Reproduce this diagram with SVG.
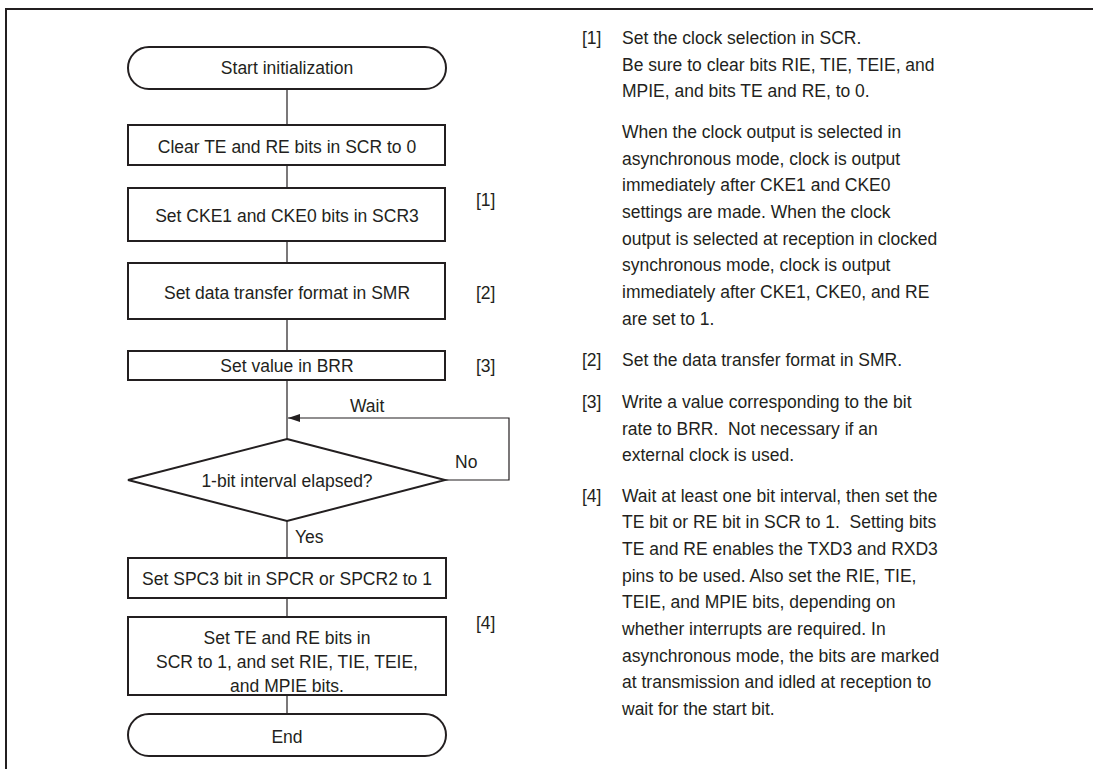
<svg xmlns="http://www.w3.org/2000/svg" width="1093" height="769" viewBox="0 0 1093 769">
<defs>
<style>
text{font-family:"Liberation Sans",Arial,sans-serif;font-size:17.5px;fill:#231f20}
.c{text-anchor:middle}
.pre{white-space:pre}
.box{fill:#fff;stroke:#231f20;stroke-width:2}
.ln{fill:none;stroke:#231f20;stroke-width:1.2}
</style>
<marker id="ah" markerWidth="12" markerHeight="8" refX="12" refY="4" orient="auto" markerUnits="userSpaceOnUse">
<path d="M0,0 L12,4 L0,8 Z" fill="#231f20"/>
</marker>
</defs>
<rect width="1093" height="769" fill="#fff"/>
<path d="M6,769 V9 H1093" fill="none" stroke="#231f20" stroke-width="2"/>
<g id="connectors">
<line class="ln" x1="287" y1="89" x2="287" y2="125"/>
<line class="ln" x1="287" y1="165" x2="287" y2="188"/>
<line class="ln" x1="287" y1="241" x2="287" y2="263"/>
<line class="ln" x1="287" y1="319" x2="287" y2="351"/>
<line class="ln" x1="287" y1="380" x2="287" y2="439"/>
<path class="ln" d="M445,480 H509 V418 H288" marker-end="url(#ah)"/>
<line class="ln" x1="287" y1="521" x2="287" y2="558"/>
<line class="ln" x1="287" y1="598" x2="287" y2="617"/>
<line class="ln" x1="287" y1="695" x2="287" y2="714"/>
<text x="350" y="412">Wait</text>
<text x="455" y="468">No</text>
<text x="295" y="543">Yes</text>
</g>
<g id="start">
<rect class="box" x="128" y="47" width="318" height="42" rx="21"/>
<text class="c" x="287" y="74">Start initialization</text>
</g>
<g id="clear">
<rect class="box" x="128" y="125" width="317" height="40"/>
<text class="c" x="287" y="153">Clear TE and RE bits in SCR to 0</text>
</g>
<g id="cke">
<rect class="box" x="128" y="188" width="317" height="53"/>
<text class="c" x="287" y="222">Set CKE1 and CKE0 bits in SCR3</text>
<text x="476" y="206">[1]</text>
</g>
<g id="smr">
<rect class="box" x="128" y="263" width="317" height="56"/>
<text class="c" x="287" y="299">Set data transfer format in SMR</text>
<text x="476" y="299">[2]</text>
</g>
<g id="brr">
<rect class="box" x="128" y="351" width="317" height="29"/>
<text class="c" x="287" y="372">Set value in BRR</text>
<text x="476" y="372">[3]</text>
</g>
<g id="decision">
<polygon class="box" points="287,439 445,480 287,521 128,480"/>
<text class="c" x="287" y="487">1-bit interval elapsed?</text>
</g>
<g id="spc3">
<rect class="box" x="128" y="558" width="318" height="40"/>
<text class="c" x="287" y="585">Set SPC3 bit in SPCR or SPCR2 to 1</text>
</g>
<g id="te">
<rect class="box" x="128" y="617" width="318" height="78"/>
<text class="c" x="287" y="644">Set TE and RE bits in</text>
<text class="c" x="287" y="668">SCR to 1, and set RIE, TIE, TEIE,</text>
<text class="c" x="287" y="692">and MPIE bits.</text>
<text x="476" y="629">[4]</text>
</g>
<g id="end">
<rect class="box" x="128" y="714" width="318" height="42" rx="21"/>
<text class="c" x="287" y="743">End</text>
</g>
<g id="notes">
<text x="582" y="44">[1]</text>
<text x="622" y="44">Set the clock selection in SCR.</text>
<text x="622" y="71">Be sure to clear bits RIE, TIE, TEIE, and</text>
<text x="622" y="97">MPIE, and bits TE and RE, to 0.</text>
<text x="622" y="138">When the clock output is selected in</text>
<text x="622" y="165">asynchronous mode, clock is output</text>
<text x="622" y="191">immediately after CKE1 and CKE0</text>
<text x="622" y="218">settings are made. When the clock</text>
<text x="622" y="245">output is selected at reception in clocked</text>
<text x="622" y="271">synchronous mode, clock is output</text>
<text x="622" y="298">immediately after CKE1, CKE0, and RE</text>
<text x="622" y="325">are set to 1.</text>
<text x="582" y="366">[2]</text>
<text x="622" y="366">Set the data transfer format in SMR.</text>
<text x="582" y="408">[3]</text>
<text x="622" y="408">Write a value corresponding to the bit</text>
<text class="pre" x="622" y="435">rate to BRR.  Not necessary if an</text>
<text x="622" y="461">external clock is used.</text>
<text x="582" y="502">[4]</text>
<text x="622" y="502">Wait at least one bit interval, then set the</text>
<text class="pre" x="622" y="528">TE bit or RE bit in SCR to 1.  Setting bits</text>
<text x="622" y="555">TE and RE enables the TXD3 and RXD3</text>
<text x="622" y="582">pins to be used. Also set the RIE, TIE,</text>
<text x="622" y="608">TEIE, and MPIE bits, depending on</text>
<text x="622" y="635">whether interrupts are required. In</text>
<text x="622" y="662">asynchronous mode, the bits are marked</text>
<text x="622" y="688">at transmission and idled at reception to</text>
<text x="622" y="715">wait for the start bit.</text>
</g>
</svg>
